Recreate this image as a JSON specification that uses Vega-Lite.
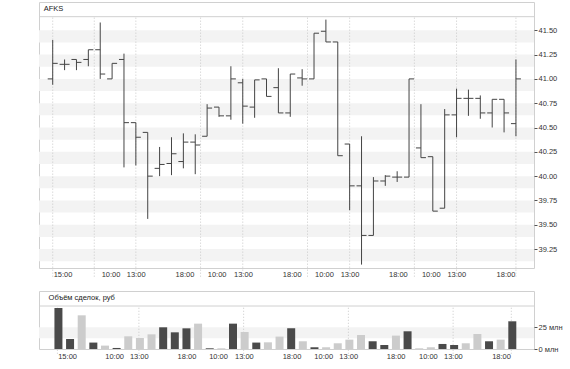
{
  "$schema": "https://vega.github.io/schema/vega-lite/v6.json",
  "background": "white",
  "padding": {"left": 38, "top": 1, "right": 2, "bottom": 2},
  "bounds": "flush",
  "spacing": 23,
  "config": {
    "view": {"stroke": "#d0d0d0", "strokeWidth": 1},
    "axis": {"labelFont": "Liberation Sans", "labelFontSize": 7.5, "labelColor": "#333", "labelOverlap": false},
    "text": {"font": "Liberation Sans"}
  },
  "datasets": {
    "ohlc": [
      {"i":0,"o":41.00,"h":41.40,"l":40.94,"c":41.16,"v":47200000,"d":"up"},
      {"i":1,"o":41.15,"h":41.20,"l":41.09,"c":41.15,"v":11500000,"d":"up"},
      {"i":2,"o":41.20,"h":41.20,"l":41.09,"c":41.17,"v":38800000,"d":"down"},
      {"i":3,"o":41.20,"h":41.30,"l":41.13,"c":41.30,"v":7400000,"d":"up"},
      {"i":4,"o":41.30,"h":41.58,"l":41.00,"c":41.05,"v":3900000,"d":"down"},
      {"i":5,"o":41.00,"h":41.16,"l":41.00,"c":41.16,"v":1200000,"d":"up"},
      {"i":6,"o":41.20,"h":41.26,"l":40.09,"c":40.55,"v":14600000,"d":"down"},
      {"i":7,"o":40.55,"h":40.55,"l":40.11,"c":40.40,"v":12700000,"d":"down"},
      {"i":8,"o":40.45,"h":40.45,"l":39.56,"c":40.00,"v":16900000,"d":"down"},
      {"i":9,"o":40.08,"h":40.30,"l":40.00,"c":40.12,"v":25000000,"d":"up"},
      {"i":10,"o":40.13,"h":40.40,"l":40.01,"c":40.23,"v":19200000,"d":"up"},
      {"i":11,"o":40.15,"h":40.44,"l":40.08,"c":40.35,"v":23800000,"d":"up"},
      {"i":12,"o":40.35,"h":40.43,"l":40.02,"c":40.32,"v":29200000,"d":"down"},
      {"i":13,"o":40.41,"h":40.74,"l":40.41,"c":40.70,"v":800000,"d":"up"},
      {"i":14,"o":40.71,"h":40.71,"l":40.61,"c":40.62,"v":800000,"d":"down"},
      {"i":15,"o":40.62,"h":41.13,"l":40.58,"c":41.00,"v":29200000,"d":"up"},
      {"i":16,"o":40.96,"h":41.00,"l":40.54,"c":40.72,"v":19600000,"d":"down"},
      {"i":17,"o":40.71,"h":40.99,"l":40.60,"c":40.99,"v":7400000,"d":"up"},
      {"i":18,"o":41.00,"h":41.00,"l":40.82,"c":40.82,"v":7700000,"d":"down"},
      {"i":19,"o":40.91,"h":41.11,"l":40.65,"c":40.65,"v":14300000,"d":"down"},
      {"i":20,"o":40.65,"h":41.05,"l":40.61,"c":41.05,"v":23800000,"d":"up"},
      {"i":21,"o":41.01,"h":41.10,"l":40.93,"c":41.00,"v":8900000,"d":"down"},
      {"i":22,"o":41.00,"h":41.47,"l":41.00,"c":41.47,"v":2000000,"d":"up"},
      {"i":23,"o":41.49,"h":41.61,"l":41.38,"c":41.38,"v":2000000,"d":"down"},
      {"i":24,"o":41.38,"h":41.38,"l":40.21,"c":40.21,"v":6600000,"d":"down"},
      {"i":25,"o":40.33,"h":40.33,"l":39.65,"c":39.90,"v":10800000,"d":"down"},
      {"i":26,"o":39.90,"h":40.41,"l":39.09,"c":39.39,"v":16100000,"d":"down"},
      {"i":27,"o":39.39,"h":39.99,"l":39.39,"c":39.95,"v":8900000,"d":"up"},
      {"i":28,"o":39.95,"h":40.01,"l":39.90,"c":40.00,"v":4600000,"d":"up"},
      {"i":29,"o":39.99,"h":40.05,"l":39.94,"c":39.99,"v":15400000,"d":"down"},
      {"i":30,"o":39.99,"h":41.00,"l":39.99,"c":41.00,"v":20400000,"d":"up"},
      {"i":31,"o":40.29,"h":40.74,"l":40.19,"c":40.19,"v":800000,"d":"down"},
      {"i":32,"o":40.20,"h":40.20,"l":39.64,"c":39.64,"v":2000000,"d":"down"},
      {"i":33,"o":39.67,"h":40.69,"l":39.67,"c":40.63,"v":5800000,"d":"up"},
      {"i":34,"o":40.63,"h":40.90,"l":40.40,"c":40.80,"v":4600000,"d":"up"},
      {"i":35,"o":40.80,"h":40.89,"l":40.62,"c":40.80,"v":6600000,"d":"down"},
      {"i":36,"o":40.80,"h":40.83,"l":40.59,"c":40.65,"v":17300000,"d":"down"},
      {"i":37,"o":40.65,"h":40.79,"l":40.50,"c":40.79,"v":8900000,"d":"up"},
      {"i":38,"o":40.79,"h":40.79,"l":40.45,"c":40.65,"v":10800000,"d":"down"},
      {"i":39,"o":40.54,"h":41.20,"l":40.41,"c":41.00,"v":31900000,"d":"up"}
    ],
    "grid": [
      {"g":0,"kind":"time"},{"g":3.5,"kind":"day"},{"g":7,"kind":"time"},{"g":12.45,"kind":"day"},
      {"g":16,"kind":"time"},{"g":21.45,"kind":"day"},{"g":25,"kind":"time"},{"g":30.45,"kind":"day"},
      {"g":34,"kind":"time"},{"g":39,"kind":"time"}
    ],
    "bands": [
      {"panel":"price","top":41.5,"bottom":41.375},
      {"panel":"price","top":41.25,"bottom":41.125},
      {"panel":"price","top":41.0,"bottom":40.875},
      {"panel":"price","top":40.75,"bottom":40.625},
      {"panel":"price","top":40.5,"bottom":40.375},
      {"panel":"price","top":40.25,"bottom":40.125},
      {"panel":"price","top":40.0,"bottom":39.875},
      {"panel":"price","top":39.75,"bottom":39.625},
      {"panel":"price","top":39.5,"bottom":39.375},
      {"panel":"price","top":39.25,"bottom":39.125},
      {"panel":"volume","top":25000000,"bottom":12500000}
    ]
  },
  "vconcat": [
    {
      "width": 495,
      "height": 266,
      "layer": [
        {
          "data": {"name": "bands"},
          "transform": [{"filter": "datum.panel == 'price'"}],
          "mark": {"type": "rect", "color": "#f3f3f3"},
          "encoding": {
            "y": {"field": "top", "type": "quantitative", "title": null,
                  "scale": {"domain": [39.055, 41.791], "nice": false, "zero": false},
                  "axis": {"orient": "right", "values": [39.25, 39.5, 39.75, 40.0, 40.25, 40.5, 40.75, 41.0, 41.25, 41.5],
                           "tickCount": 30,
                           "format": ".2f", "tickSize": 3, "tickColor": "#555", "labelPadding": 1,
                           "labelOverlap": false, "labelFlush": false,
                           "domain": false, "grid": false, "title": null}},
            "y2": {"field": "bottom"}
          }
        },
        {
          "data": {"name": "grid"},
          "mark": {"type": "rule", "color": "#c8c8c8", "strokeDash": [1, 2], "strokeWidth": 1},
          "encoding": {
            "x": {"field": "g", "type": "quantitative", "title": null,
                  "scale": {"domain": [-1.154, 40.52], "nice": false, "zero": false},
                  "axis": {"values": [0.83, 4.87, 6.99, 11.09, 13.8, 16.02, 20.12, 22.84, 24.99, 29.06, 31.83, 33.98, 38.12],
                           "tickCount": 30,
                           "labelExpr": "datum.value < 2 ? '15:00' : ((datum.value - 4) % 9 < 2 ? '10:00' : ((datum.value - 4) % 9 < 5 ? '13:00' : '18:00'))",
                           "ticks": false, "domain": false, "grid": false, "labelPadding": 2,
                           "labelFlush": false, "labelOverlap": false, "title": null}},
            "y": {"datum": 41.63, "type": "quantitative"},
            "y2": {"datum": 38.95}
          }
        },
        {
          "data": {"values": [{}]},
          "mark": {"type": "rule", "color": "#d0d0d0", "strokeWidth": 1},
          "encoding": {"y": {"datum": 41.64, "type": "quantitative"}}
        },
        {
          "data": {"name": "ohlc"},
          "mark": {"type": "rule", "color": "#444", "strokeWidth": 1},
          "encoding": {
            "x": {"field": "i", "type": "quantitative", "title": null},
            "y": {"field": "h", "type": "quantitative", "title": null},
            "y2": {"field": "l"}
          }
        },
        {
          "data": {"name": "ohlc"},
          "mark": {"type": "rule", "color": "#444", "strokeWidth": 1, "xOffset": -5},
          "encoding": {
            "x": {"field": "i", "type": "quantitative", "title": null},
            "x2": {"field": "i"},
            "y": {"field": "o", "type": "quantitative", "title": null}
          }
        },
        {
          "data": {"name": "ohlc"},
          "mark": {"type": "rule", "color": "#444", "strokeWidth": 1, "x2Offset": 5},
          "encoding": {
            "x": {"field": "i", "type": "quantitative", "title": null},
            "x2": {"field": "i"},
            "y": {"field": "c", "type": "quantitative", "title": null}
          }
        },
        {
          "data": {"values": [{}]},
          "mark": {"type": "text", "text": "AFKS", "align": "left", "baseline": "middle", "fontSize": 7.5, "color": "#222"},
          "encoding": {
            "x": {"datum": -0.76, "type": "quantitative"},
            "y": {"datum": 41.716, "type": "quantitative"}
          }
        }
      ]
    },
    {
      "width": 495,
      "height": 58,
      "layer": [
        {
          "data": {"name": "bands"},
          "transform": [{"filter": "datum.panel == 'volume'"}],
          "mark": {"type": "rect", "color": "#f3f3f3"},
          "encoding": {
            "y": {"field": "top", "type": "quantitative", "title": null,
                  "scale": {"domain": [0, 66800000], "nice": false, "zero": false},
                  "axis": {"orient": "right", "values": [0, 25000000], "tickCount": 10,
                           "labelExpr": "format(datum.value / 1000000, 'd') + ' млн'",
                           "tickSize": 3, "tickColor": "#555", "labelPadding": 1,
                           "labelOverlap": false, "labelFlush": false,
                           "domain": false, "grid": false, "title": null}},
            "y2": {"field": "bottom"}
          }
        },
        {
          "data": {"name": "grid"},
          "transform": [{"filter": "datum.kind == 'time'"}],
          "mark": {"type": "rule", "color": "#c8c8c8", "strokeDash": [1, 2], "strokeWidth": 1},
          "encoding": {
            "x": {"field": "g", "type": "quantitative", "title": null,
                  "scale": {"domain": [-1.154, 40.52], "nice": false, "zero": false},
                  "axis": {"values": [0.83, 4.87, 6.99, 11.09, 13.8, 16.02, 20.12, 22.84, 24.99, 29.06, 31.83, 33.98, 38.12],
                           "tickCount": 30,
                           "labelExpr": "datum.value < 2 ? '15:00' : ((datum.value - 4) % 9 < 2 ? '10:00' : ((datum.value - 4) % 9 < 5 ? '13:00' : '18:00'))",
                           "ticks": false, "domain": false, "grid": false, "labelPadding": 3,
                           "labelFlush": false, "labelOverlap": false, "title": null}},
            "y": {"datum": 47500000, "type": "quantitative"},
            "y2": {"datum": -5400000}
          }
        },
        {
          "data": {"values": [{}]},
          "mark": {"type": "rule", "color": "#d0d0d0", "strokeWidth": 1},
          "encoding": {"y": {"datum": 49500000, "type": "quantitative"}}
        },
        {
          "data": {"name": "ohlc"},
          "mark": {"type": "bar", "orient": "vertical", "size": 8, "xOffset": 1},
          "encoding": {
            "x": {"field": "i", "type": "quantitative", "title": null},
            "y": {"field": "v", "type": "quantitative", "title": null},
            "color": {"field": "d", "type": "nominal", "legend": null,
                      "scale": {"domain": ["up", "down"], "range": ["#4a4a4a", "#cccccc"]}}
          }
        },
        {
          "data": {"values": [{}]},
          "mark": {"type": "text", "text": "Объём сделок, руб", "align": "left", "baseline": "middle", "fontSize": 7.5, "color": "#222"},
          "encoding": {
            "x": {"datum": -0.76, "type": "quantitative"},
            "y": {"datum": 58200000, "type": "quantitative"}
          }
        }
      ]
    }
  ]
}
